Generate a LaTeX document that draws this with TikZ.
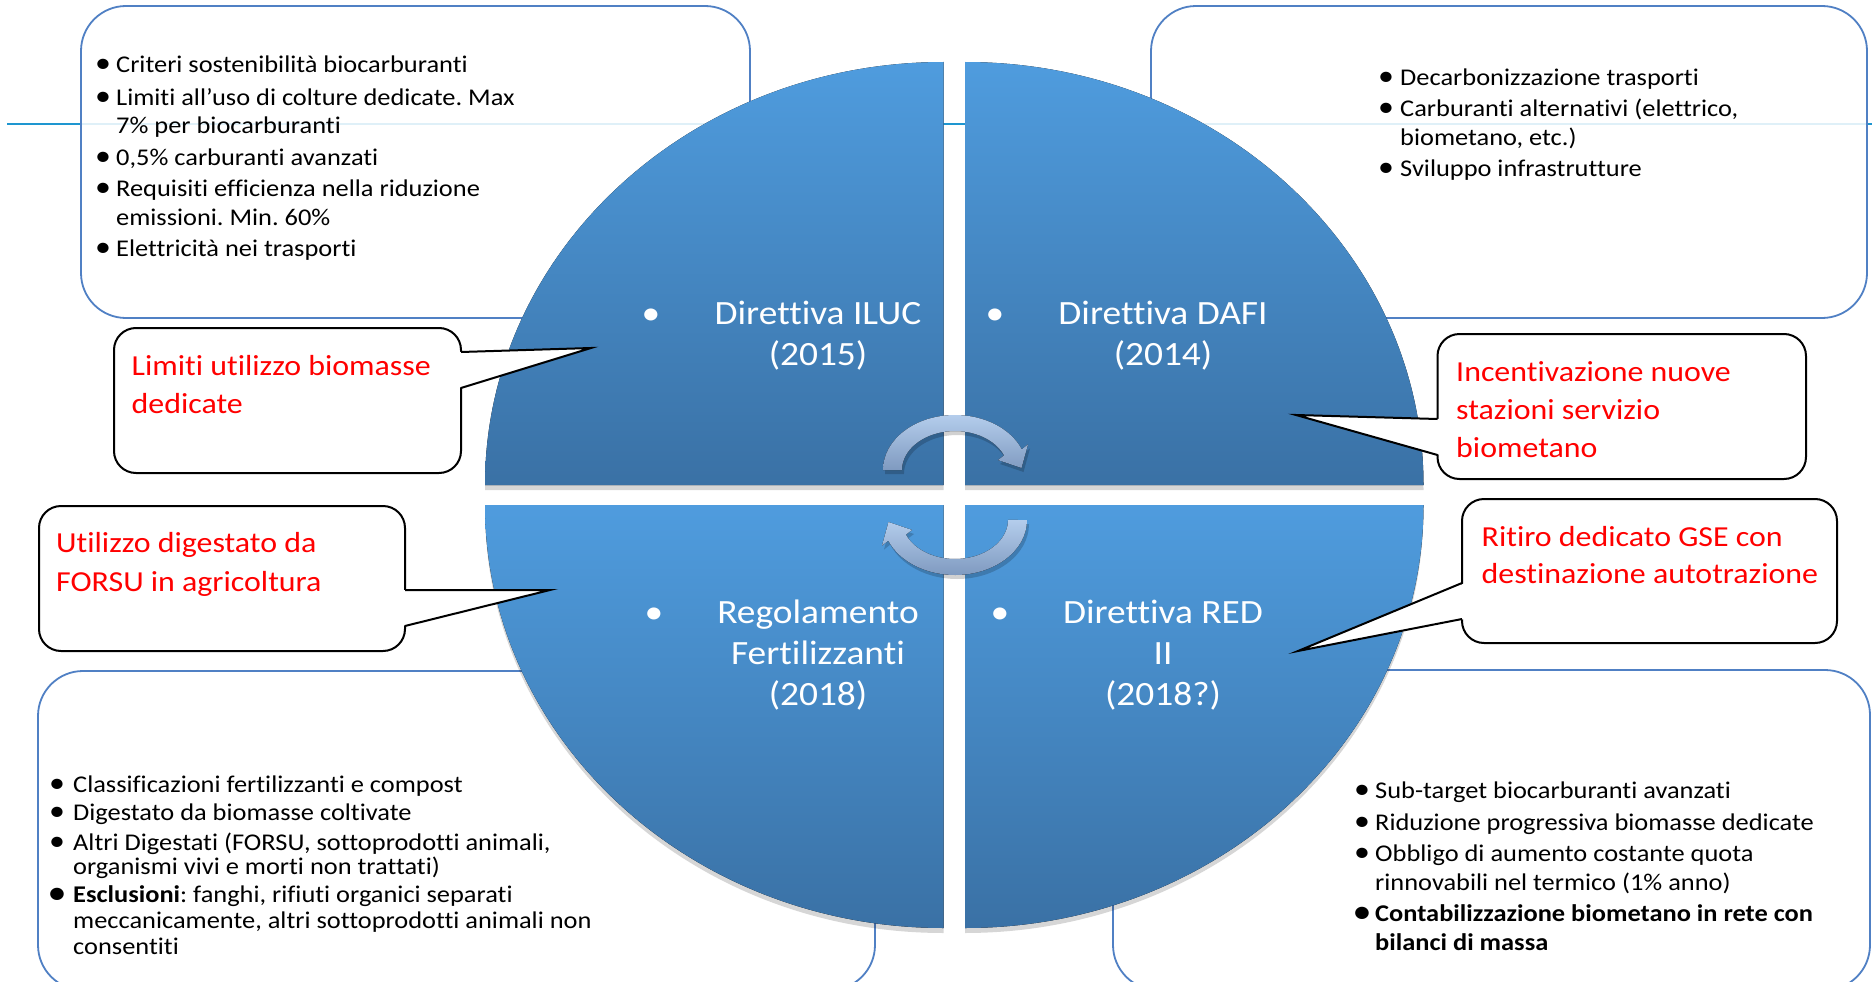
\documentclass[tikz,border=0pt]{standalone}
\usepackage{fontspec}
\setmainfont[FakeStretch=1.1,Ligatures={NoCommon}]{Carlito}
\definecolor{quadtop}{HTML}{4F9CDE}
\definecolor{quadbot}{HTML}{3A71A5}
\definecolor{hline}{HTML}{1E96D0}
\definecolor{boxblue}{HTML}{5080C4}
\definecolor{arrtop}{HTML}{B4CDEC}
\definecolor{arrbot}{HTML}{7F9AC0}
\definecolor{calred}{HTML}{FF0000}
\frenchspacing
\begin{document}
\begin{tikzpicture}[x=1pt,y=-1pt,
  infobox/.style={draw=boxblue,line width=1.8pt,fill=white,fill opacity=0.86,rounded corners=45pt,inner sep=0pt},
  quad/.style={top color=quadtop,bottom color=quadbot,draw=none},
  qshadow/.style={fill=black,opacity=0.16},
  qtext/.style={text=white,font=\fontsize{34}{41}\selectfont,inner sep=0pt,anchor=base},
  itext/.style={font=\fontsize{24}{29}\selectfont,inner sep=0pt,anchor=base west},
  ibullet/.style={font=\fontsize{29}{29}\selectfont,inner sep=0pt,anchor=base},
  callout/.style={draw=black,line width=2pt,fill=white,rounded corners=22pt,inner sep=0pt},
  ctext/.style={text=calred,font=\fontsize{29}{38}\selectfont,inner sep=0pt,anchor=base west},
  pointer/.style={draw=black,line width=2pt,line join=miter},
  cyclearrow/.style={top color=arrtop,bottom color=arrbot,draw=none}
]
\useasboundingbox (0,0) rectangle (1872,982);
\clip (0,0) rectangle (1872,982);

% horizontal guide line
\coordinate (hl0) at (7,124);
\coordinate (hl1) at (1872,124);
\draw[hline,line width=2.5pt] (hl0) -- (hl1);

% info boxes
\node[infobox,minimum width=669pt,minimum height=312pt] (boxTL) at (415.5,162) {};
\node[infobox,minimum width=716pt,minimum height=312pt] (boxTR) at (1509,162) {};
\node[infobox,minimum width=837pt,minimum height=319pt] (boxBL) at (456.5,830.5) {};
\node[infobox,minimum width=757pt,minimum height=320pt] (boxBR) at (1491.5,830) {};

% quadrant shadows
\begin{scope}[shift={(0,5)}]
\fill[qshadow] (943.5,485) -- (485,485) arc[start angle=180,end angle=270,x radius=458.5,y radius=423] -- cycle;
\fill[qshadow] (965,485) -- (965,62) arc[start angle=270,end angle=360,x radius=458.5,y radius=423] -- cycle;
\fill[qshadow] (943.5,505) -- (485,505) arc[start angle=180,end angle=90,x radius=458.5,y radius=423] -- cycle;
\fill[qshadow] (965,505) -- (1423.5,505) arc[start angle=0,end angle=90,x radius=458.5,y radius=423] -- cycle;
\end{scope}

% quadrants
\fill[quad] (943.5,485) -- (485,485) arc[start angle=180,end angle=270,x radius=458.5,y radius=423] -- cycle;
\fill[quad] (965,485) -- (965,62) arc[start angle=270,end angle=360,x radius=458.5,y radius=423] -- cycle;
\fill[quad] (943.5,505) -- (485,505) arc[start angle=180,end angle=90,x radius=458.5,y radius=423] -- cycle;
\fill[quad] (965,505) -- (1423.5,505) arc[start angle=0,end angle=90,x radius=458.5,y radius=423] -- cycle;

% quadrant texts
\node[qtext] (ilucb) at (651,324) {•};
\node[qtext] (iluc1) at (818,324) {Direttiva ILUC};
\node[qtext] (iluc2) at (818,365) {(2015)};
\node[qtext] (dafib) at (995,324) {•};
\node[qtext] (dafi1) at (1163,324) {Direttiva DAFI};
\node[qtext] (dafi2) at (1163,365) {(2014)};
\node[qtext] (regb) at (654,623) {•};
\node[qtext] (reg1) at (818,623) {Regolamento};
\node[qtext] (reg2) at (818,664) {Fertilizzanti};
\node[qtext] (reg3) at (818,705) {(2018)};
\node[qtext] (redb) at (1000,623) {•};
\node[qtext] (red1) at (1163,623) {Direttiva RED};
\node[qtext] (red2) at (1163,664) {II};
\node[qtext] (red3) at (1163,705) {(2018?)};

% cycle arrows (shadows then arrows)
\begin{scope}[shift={(2,4)}]
\fill[black,opacity=0.18] (883,470) arc[start angle=180,end angle=338,x radius=72,y radius=55] -- (1028,444.4) -- (1021.5,468) -- (998,460) -- (1004.1,455.4) arc[start angle=338,end angle=180,x radius=53,y radius=39] -- cycle;
\fill[black,opacity=0.18] (1027,520) arc[start angle=0,end angle=158,x radius=72,y radius=55] -- (882,545.6) -- (888.5,522) -- (912,530) -- (905.9,534.6) arc[start angle=158,end angle=0,x radius=53,y radius=39] -- cycle;
\end{scope}
\fill[cyclearrow] (883,470) arc[start angle=180,end angle=338,x radius=72,y radius=55] -- (1028,444.4) -- (1021.5,468) -- (998,460) -- (1004.1,455.4) arc[start angle=338,end angle=180,x radius=53,y radius=39] -- cycle;
\fill[cyclearrow] (1027,520) arc[start angle=0,end angle=158,x radius=72,y radius=55] -- (882,545.6) -- (888.5,522) -- (912,530) -- (905.9,534.6) arc[start angle=158,end angle=0,x radius=53,y radius=39] -- cycle;

% info texts
\foreach \bul/\yy/\txt [count=\i] in {
  1/73/{Criteri sostenibilità biocarburanti},
  1/105/{Limiti all’uso di colture dedicate. Max},
  0/133/{7\% per biocarburanti},
  1/165/{0,5\% carburanti avanzati},
  1/196/{Requisiti efficienza nella riduzione},
  0/225/{emissioni. Min. 60\%},
  1/256/{Elettricità nei trasporti}}{
  \node[itext] (tl\i) at (116,\yy) {\txt};
  \ifnum\bul=1 \node[ibullet] (tlb\i) at (103,\yy) {•};\fi
}
\foreach \bul/\yy/\txt [count=\i] in {
  1/85/{Decarbonizzazione trasporti},
  1/116/{Carburanti alternativi (elettrico,},
  0/145/{biometano, etc.)},
  1/176/{Sviluppo infrastrutture}}{
  \node[itext] (tr\i) at (1400,\yy) {\txt};
  \ifnum\bul=1 \node[ibullet] (trb\i) at (1386,\yy) {•};\fi
}
\foreach \bul/\yy/\txt [count=\i] in {
  1/792/{Classificazioni fertilizzanti e compost},
  1/820/{Digestato da biomasse coltivate},
  1/850/{Altri Digestati (FORSU, sottoprodotti animali,},
  0/874/{organismi vivi e morti non trattati)},
  2/902/{\textbf{Esclusioni}: fanghi, rifiuti organici separati},
  0/928/{meccanicamente, altri sottoprodotti animali non},
  0/954/{consentiti}}{
  \node[itext] (bl\i) at (73,\yy) {\txt};
  \ifnum\bul=1 \node[ibullet] (blb\i) at (57,\yy) {•};\fi
  \ifnum\bul=2 \node[ibullet] (blb\i) at (57,\yy) {\textbf{•}};\fi
}
\foreach \bul/\yy/\txt [count=\i] in {
  1/798/{Sub-target biocarburanti avanzati},
  1/830/{Riduzione progressiva biomasse dedicate},
  1/861/{Obbligo di aumento costante quota},
  0/890/{rinnovabili nel termico (1\% anno)},
  2/921/{\textbf{Contabilizzazione biometano in rete con}},
  0/950/{\textbf{bilanci di massa}}}{
  \node[itext] (br\i) at (1375,\yy) {\txt};
  \ifnum\bul=1 \node[ibullet] (brb\i) at (1362,\yy) {•};\fi
  \ifnum\bul=2 \node[ibullet] (brb\i) at (1362,\yy) {\textbf{•}};\fi
}

% callout 1
\node[callout,minimum width=347pt,minimum height=145pt] (c1) at (287.5,400.5) {};
\coordinate (c1a) at (461,352); \coordinate (c1t) at (591,348); \coordinate (c1b) at (461,388);
\fill[white] (458,352) -- (c1t) -- (458,388) -- cycle;
\draw[pointer] (c1a) -- (c1t) -- (c1b);
\node[ctext] (c1l1) at (131.5,375) {Limiti utilizzo biomasse};
\node[ctext] (c1l2) at (131.5,413) {dedicate};

% callout 2
\node[callout,minimum width=366pt,minimum height=145pt] (c2) at (222,578.5) {};
\coordinate (c2a) at (405,590); \coordinate (c2t) at (550,590); \coordinate (c2b) at (405,626);
\fill[white] (402,590) -- (c2t) -- (402,626) -- cycle;
\draw[pointer] (c2a) -- (c2t) -- (c2b);
\node[ctext] (c2l1) at (56,552) {Utilizzo digestato da};
\node[ctext] (c2l2) at (56,591) {FORSU in agricoltura};

% callout 3
\node[callout,minimum width=368.5pt,minimum height=145pt] (c3) at (1621.75,406.5) {};
\coordinate (c3a) at (1437.5,419); \coordinate (c3t) at (1296,415); \coordinate (c3b) at (1437.5,455);
\fill[white] (1440.5,419) -- (c3t) -- (1440.5,455) -- cycle;
\draw[pointer] (c3a) -- (c3t) -- (c3b);
\node[ctext] (c3l1) at (1456,381) {Incentivazione nuove};
\node[ctext] (c3l2) at (1456,419) {stazioni servizio};
\node[ctext] (c3l3) at (1456,457) {biometano};

% callout 4
\node[callout,minimum width=375pt,minimum height=144pt] (c4) at (1649.5,571) {};
\coordinate (c4a) at (1462,583); \coordinate (c4t) at (1298,651); \coordinate (c4b) at (1462,619);
\fill[white] (1465,583) -- (c4t) -- (1465,619) -- cycle;
\draw[pointer] (c4a) -- (c4t) -- (c4b);
\node[ctext] (c4l1) at (1481.5,546) {Ritiro dedicato GSE con};
\node[ctext] (c4l2) at (1481.5,583) {destinazione autotrazione};
\end{tikzpicture}
\end{document}
